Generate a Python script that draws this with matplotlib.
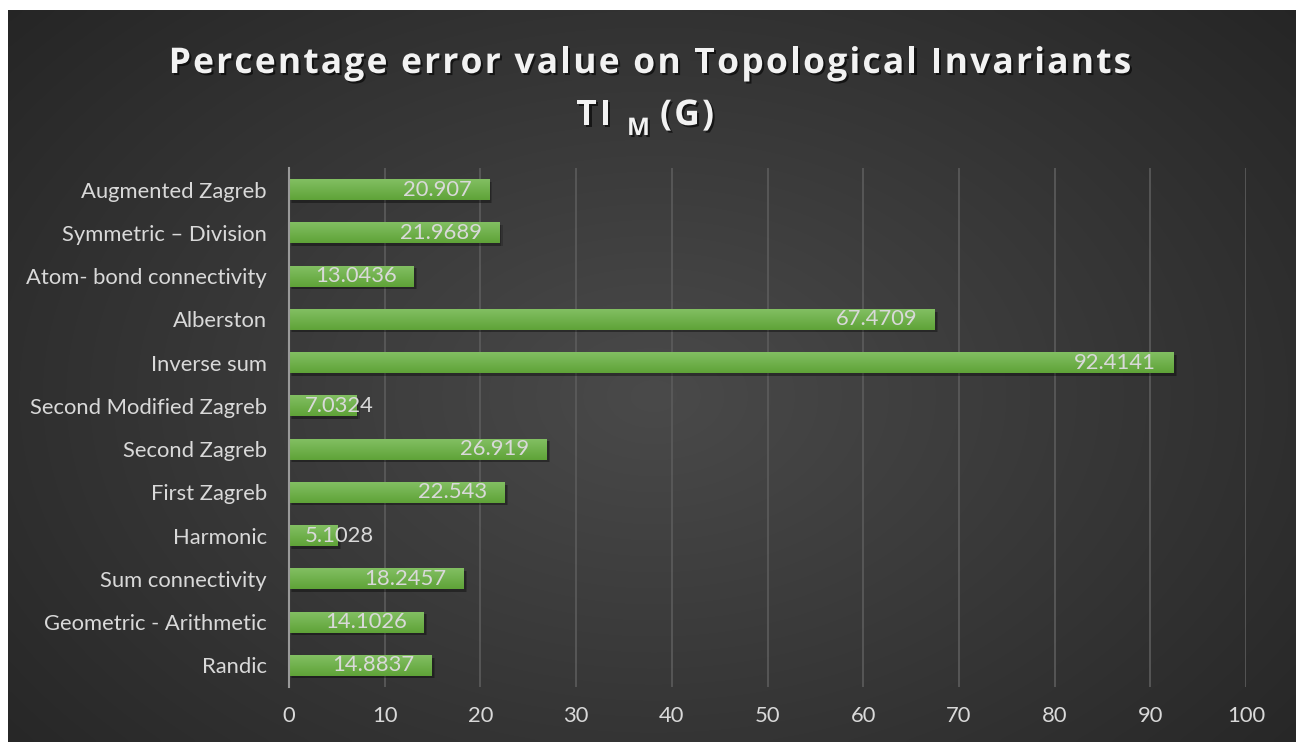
import matplotlib
matplotlib.use("Agg")
import matplotlib.pyplot as plt
import matplotlib.patheffects as pe
from matplotlib.font_manager import FontProperties
import numpy as np

# categories listed bottom -> top (Excel draws the first category at the bottom)
categories = ["Randic", "Geometric - Arithmetic", "Sum connectivity", "Harmonic",
              "First Zagreb", "Second Zagreb", "Second Modified Zagreb", "Inverse sum",
              "Alberston", "Atom- bond connectivity", "Symmetric \u2013 Division",
              "Augmented Zagreb"]
values = [14.8837, 14.1026, 18.2457, 5.1028, 22.543, 26.919, 7.0324, 92.4141,
          67.4709, 13.0436, 21.9689, 20.907]
x_ticks = [0, 10, 20, 30, 40, 50, 60, 70, 80, 90, 100]

font = "Lato"
title_font = "Open Sans"
txt_col = "#d9d9d9"
fs = 15.8

W, H = 1301, 742
fig = plt.figure(figsize=(W / 100, H / 100), dpi=100, facecolor="white")
renderer = fig.canvas.get_renderer()

# dark radial-gradient background panel
bg = fig.add_axes([8 / W, 0, 1288 / W, 732 / H])
yy, xx = np.mgrid[0:200, 0:350]
r = np.sqrt(((xx - 175) / 175.0) ** 2 + ((yy - 105) / 120.0) ** 2) / 1.35
r = np.clip(r, 0, 1)
c0, c1 = 0x4a / 255, 0x25 / 255
shade = c0 + (c1 - c0) * r
bg.imshow(np.dstack([shade, shade, shade]), aspect="auto", extent=[0, 1, 0, 1],
          interpolation="bicubic")
bg.set_axis_off()

ax = fig.add_axes([289 / W, 1 - 687 / H, 957 / W, 519 / H])
ax.patch.set_alpha(0)

y = np.arange(len(categories))
h = 0.48
grad = np.linspace(0, 1, 50).reshape(-1, 1)
top = np.array([0x82, 0xbf, 0x62]) / 255
bot = np.array([0x5f, 0xa3, 0x38]) / 255
grad_img = top[None, None, :] * (1 - grad[:, :, None]) + bot[None, None, :] * grad[:, :, None]

# soft shadows under the bars
for k, a in [(0.35, 0.18), (0.22, 0.22)]:
    ax.barh(y - 0.06, values, height=h, left=k, color="black", alpha=a, zorder=2)
bars = ax.barh(y, values, height=h, color="#70ad47", zorder=3)
for b, v in zip(bars, values):
    y0 = b.get_y()
    ax.imshow(grad_img, extent=[0, v, y0, y0 + h], origin="upper", aspect="auto", zorder=4)

for yi, v in zip(y, values):
    label = f"{v:g}"
    if v < 10:
        ax.annotate(label, (0, yi), xytext=(11.5, 0), textcoords="offset points",
                    ha="left", va="center", color=txt_col, fontsize=fs,
                    family=font, zorder=5)
    else:
        ax.annotate(label, (v, yi), xytext=(-12.5, 0), textcoords="offset points",
                    ha="right", va="center", color=txt_col, fontsize=fs,
                    family=font, zorder=5)

ax.set_xlim(0, 100)
ax.set_ylim(-0.5, len(categories) - 0.5)
ax.set_xticks(x_ticks)
ax.set_yticks(y)
ax.set_yticklabels(categories)
ax.tick_params(axis="both", length=0, colors=txt_col, labelsize=fs)
ax.tick_params(axis="x", pad=14)
ax.tick_params(axis="y", pad=16)
for lab in ax.get_xticklabels() + ax.get_yticklabels():
    lab.set_family(font)
ax.xaxis.grid(True, color="#5c5c5c", lw=1.2, zorder=0)
ax.set_axisbelow(True)
for s in ["top", "right", "bottom"]:
    ax.spines[s].set_visible(False)
ax.spines["left"].set_color("#9a9a9a")
ax.spines["left"].set_linewidth(1.5)
ax.spines["left"].set_zorder(6)

# title: Excel draws it with extra letter spacing, so place it glyph by glyph
shadow = [pe.SimplePatchShadow(offset=(1.5, -1.5), shadow_rgbFace="black", alpha=0.6),
          pe.Normal()]


def spaced_width(s, size, sp):
    prop = FontProperties(family=title_font, weight="bold", size=size)
    ws = [renderer.get_text_width_height_descent(c, prop, ismath=False)[0] for c in s]
    return ws, sum(ws) + sp * (len(s) - 1)


def spaced_text(x_px, y_px, s, size, sp, ha="left"):
    ws, total = spaced_width(s, size, sp)
    x = x_px - total / 2 if ha == "center" else (x_px - total if ha == "right" else x_px)
    for c, w in zip(s, ws):
        if c != " ":
            fig.text(x / W, 1 - y_px / H, c, ha="left", va="baseline", fontsize=size,
                     fontweight="bold", family=title_font, color="#f2f2f2",
                     path_effects=shadow)
        x += w + sp
    return total


tsize = 25.5
tsp = 2.2
spaced_text(650, 73, "Percentage error value on Topological Invariants", tsize, tsp, "center")
spaced_text(611, 125, "TI", tsize, tsp, "right")
spaced_text(627, 135, "M", 17.5, tsp, "left")
spaced_text(660, 125, "(G)", tsize, tsp, "left")

fig.savefig("out.png", dpi=100)
